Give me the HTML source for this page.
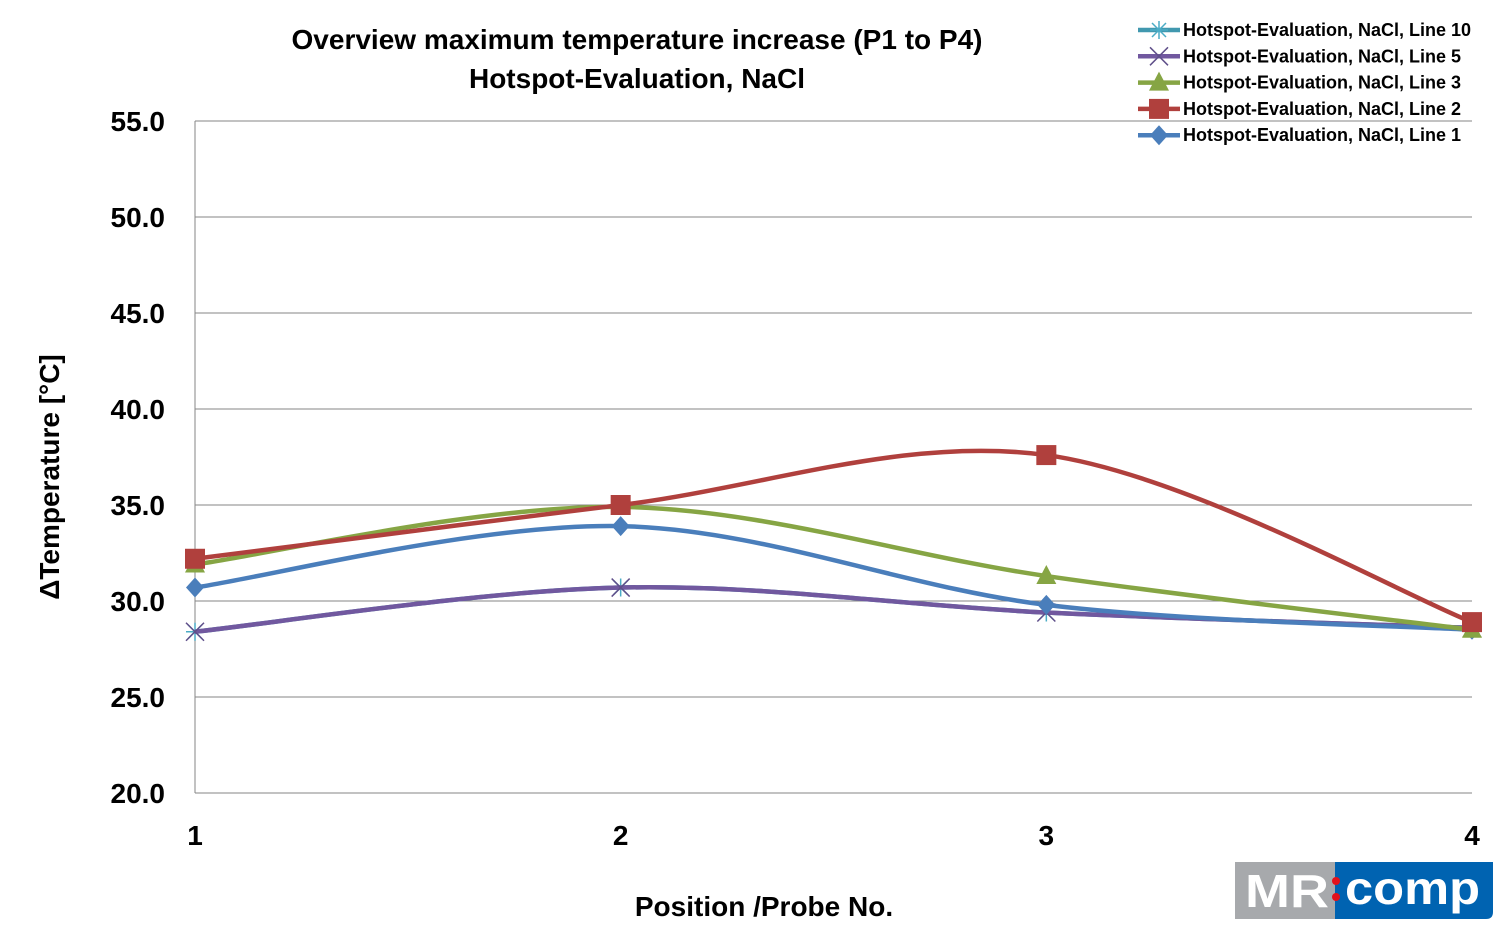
<!DOCTYPE html>
<html><head><meta charset="utf-8"><style>
body{margin:0;background:#fff;font-family:"Liberation Sans",Arial,sans-serif;}
svg text{font-family:"Liberation Sans",Arial,sans-serif;font-weight:bold;}
</style></head><body>
<svg id="chart" width="1502" height="929" xmlns="http://www.w3.org/2000/svg">
<text x="637" y="49" font-size="28" text-anchor="middle">Overview maximum temperature increase (P1 to P4)</text>
<text x="637" y="88" font-size="28" text-anchor="middle">Hotspot-Evaluation, NaCl</text>
<text transform="translate(59,477) rotate(-90)" font-size="28" text-anchor="middle">ΔTemperature [°C]</text>
<text x="764" y="916" font-size="28" text-anchor="middle">Position /Probe No.</text>
<g id="grid"></g><g id="series"></g><g id="legend"></g>
<g>
<rect x="1235" y="862" width="100" height="57" fill="#a7a9ac"/>
<path d="M1335 862 H1493 V912 Q1493 919 1486 919 H1335 Z" fill="#0063b1"/>
<text x="1245" y="907" font-size="46" fill="#fff" textLength="84" lengthAdjust="spacingAndGlyphs">MR</text>
<circle cx="1336" cy="881" r="4" fill="#e3111b"/><circle cx="1336" cy="897" r="4" fill="#e3111b"/>
<text x="1345" y="904" font-size="46" fill="#fff" textLength="135" lengthAdjust="spacingAndGlyphs">comp</text>
</g>
</svg>
<script>
const categories=[1,2,3,4];
const yTicks=[20,25,30,35,40,45,50,55];
const seriesNames=["Hotspot-Evaluation, NaCl, Line 10","Hotspot-Evaluation, NaCl, Line 5","Hotspot-Evaluation, NaCl, Line 3","Hotspot-Evaluation, NaCl, Line 2","Hotspot-Evaluation, NaCl, Line 1"];
const line10=[28.4,30.7,29.4,28.6];
const line5=[28.4,30.7,29.4,28.6];
const line3=[31.9,34.9,31.3,28.5];
const line2=[32.2,35.0,37.6,28.9];
const line1=[30.7,33.9,29.8,28.5];
const NS="http://www.w3.org/2000/svg";
const X0=195,X1=1472,Y0=793,Y1=121;
const xs=v=>X0+(v-1)*(X1-X0)/3;
const ys=v=>Y0-(v-20)*(Y0-Y1)/35;
function mk(t,a,p){const e=document.createElementNS(NS,t);for(const k in a)e.setAttribute(k,a[k]);p.appendChild(e);return e;}
const grid=document.getElementById('grid');
yTicks.forEach(t=>{
 const l=mk('line',{x1:X0,x2:X1,y1:ys(t),y2:ys(t),stroke:'#868686','stroke-width':1},grid);
 
 
 const tx=mk('text',{x:165,y:ys(t)+10,'font-size':28,'text-anchor':'end'},grid);tx.textContent=t.toFixed(1);
 
 
});
mk('line',{x1:X0,x2:X0,y1:Y1,y2:Y0,stroke:'#868686'},grid);
categories.forEach(c=>{
 const tx=mk('text',{x:xs(c),y:845,'font-size':28,'text-anchor':'middle'},grid);tx.textContent=c;
 
 
});
function path(vals){
 const p=vals.map((v,i)=>[xs(categories[i]),ys(v)]);
 let d=`M${p[0][0]},${p[0][1]}`;
 for(let i=0;i<p.length-1;i++){
  const a=p[i-1]||p[i],b=p[i],c=p[i+1],e=p[i+2]||c;
  d+=` C${b[0]+(c[0]-a[0])/6},${b[1]+(c[1]-a[1])/6} ${c[0]-(e[0]-b[0])/6},${c[1]-(e[1]-b[1])/6} ${c[0]},${c[1]}`;
 }
 return d;
}
function marker(type,x,y,col,g){
 if(type==='sq')return mk('rect',{x:x-10,y:y-10,width:20,height:20,fill:col},g);
 if(type==='tri')return mk('path',{d:`M${x},${y-11} L${x+10},${y+8} L${x-10},${y+8}Z`,fill:col},g);
 if(type==='dia')return mk('path',{d:`M${x},${y-10} L${x+9},${y} L${x},${y+10} L${x-9},${y}Z`,fill:col},g);
 if(type==='x')return mk('path',{d:`M${x-9},${y-9}L${x+9},${y+9}M${x+9},${y-9}L${x-9},${y+9}`,stroke:'#5f4f8a','stroke-width':1.5,fill:'none'},g);
 return mk('path',{d:`M${x-9},${y}H${x+9}M${x},${y-9}V${y+9}M${x-7},${y-7}L${x+7},${y+7}M${x+7},${y-7}L${x-7},${y+7}`,stroke:'#4bacc6','stroke-width':1.5},g);
}
const defs=[[line10,'#4198af','star'],[line5,'#71589f','x'],[line3,'#86a544','tri'],[line2,'#b0403d','sq'],[line1,'#4a7ebb','dia']];
const order=[0,1,4,2,3];
const sg=document.getElementById('series');
order.forEach(k=>{
 const s=defs[k];
 const g=mk('g',{},sg);
 
 
 mk('path',{d:path(s[0]),fill:'none',stroke:s[1],'stroke-width':4.5},g);
 s[0].forEach((v,i)=>{const m=marker(s[2],xs(categories[i]),ys(v),s[1],g);
  
  });
});
const lg=document.getElementById('legend');
defs.forEach((s,i)=>{
 const y=30+i*26.3;
 const g=mk('g',{},lg);
 
 
 mk('line',{x1:1138,x2:1180,y1:y,y2:y,stroke:s[1],'stroke-width':4.5},g);
 marker(s[2],1159,y,s[1],g);
 const t=mk('text',{x:1183,y:y+6,'font-size':18},g);t.textContent=seriesNames[i];
});
</script>
</body></html>
